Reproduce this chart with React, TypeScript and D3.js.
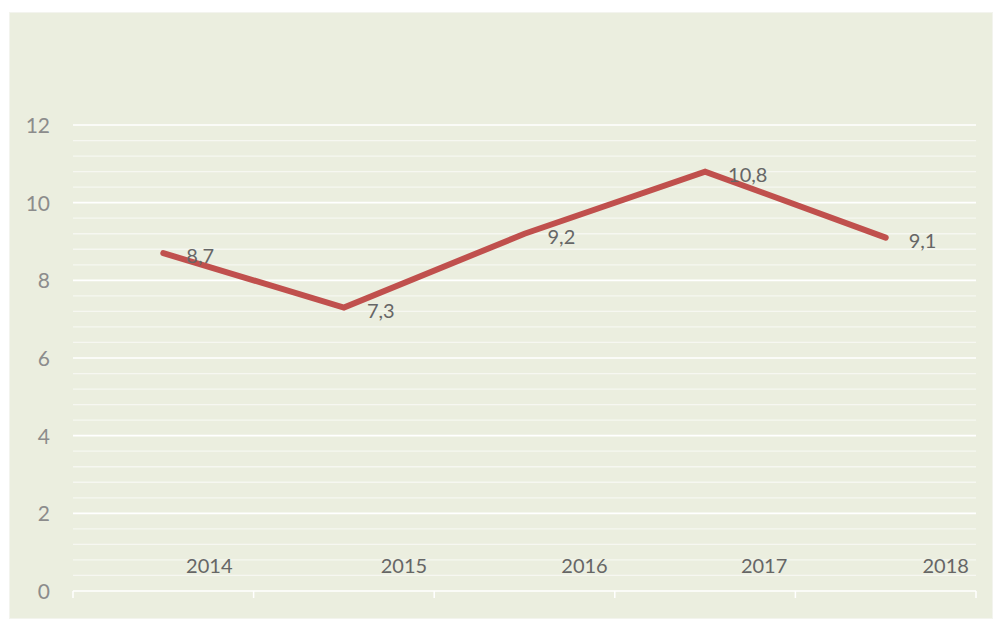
import React from "react";
import * as d3 from "d3";

const categories = ["2014", "2015", "2016", "2017", "2018"];
const values = [8.7, 7.3, 9.2, 10.8, 9.1];
const yTicks = [0, 2, 4, 6, 8, 10, 12];

const W = 995;
const H = 621;
const plot = { left: 73, right: 976, top: 125, bottom: 591 };
const catLabelShift = [46, 60, 60, 59, 60];
const FONT = "Lato, 'Open Sans', sans-serif";

export default function App() {
  const x = d3
    .scaleBand<string>()
    .domain(categories)
    .range([plot.left, plot.right])
    .paddingInner(0)
    .paddingOuter(0);
  const y = d3.scaleLinear().domain([0, 12]).range([plot.bottom, plot.top]);
  const cx = (c: string) => (x(c) as number) + x.bandwidth() / 2;

  const minorTicks = d3.range(0, 12.001, 0.4).filter(
    (v) => Math.abs(v / 2 - Math.round(v / 2)) > 1e-6
  );

  const line = d3
    .line<number>()
    .x((_, i) => cx(categories[i]))
    .y((d) => y(d));

  const boundaries = [...categories.map((c) => x(c) as number), plot.right];
  const fmt = (v: number) => v.toFixed(1).replace(".", ",");

  return (
    <svg
      width={W}
      height={H}
      style={{ position: "absolute", left: 0, top: 0 }}
      fontFamily={FONT}
    >
      <rect x={0} y={0} width={W} height={H} fill="#ffffff" />
      <rect
        x={9.5}
        y={12.5}
        width={983}
        height={606}
        fill="#EBEEDF"
        stroke="#F3F4EE"
        strokeWidth={1}
      />
      {minorTicks.map((t, i) => (
        <line
          key={"mn" + i}
          x1={plot.left}
          x2={plot.right}
          y1={y(t)}
          y2={y(t)}
          stroke="#F6F7F1"
          strokeWidth={1.3}
        />
      ))}
      {yTicks.map((t) => (
        <line
          key={"mj" + t}
          x1={plot.left}
          x2={plot.right}
          y1={y(t)}
          y2={y(t)}
          stroke="#FFFFFF"
          strokeWidth={1.6}
        />
      ))}
      {boundaries.map((b, i) => (
        <line
          key={"tk" + i}
          x1={b}
          x2={b}
          y1={plot.bottom}
          y2={plot.bottom + 7}
          stroke="#FFFFFF"
          strokeWidth={1.5}
        />
      ))}
      {yTicks.map((t) => (
        <text
          key={"yl" + t}
          x={50}
          y={y(t) + 8}
          textAnchor="end"
          fontSize={21}
          fill="#8C8C8C"
        >
          {t}
        </text>
      ))}
      {categories.map((c, i) => (
        <text
          key={"cl" + c}
          x={cx(c) + catLabelShift[i]}
          y={573}
          textAnchor="middle"
          fontSize={20}
          fill="#666666"
        >
          {c}
        </text>
      ))}
      <path
        d={line(values) || ""}
        fill="none"
        stroke="#C0504D"
        strokeWidth={6}
        strokeLinecap="round"
        strokeLinejoin="miter"
      />
      {values.map((v, i) => (
        <text
          key={"dl" + i}
          x={cx(categories[i]) + 23}
          y={y(v) + 10}
          textAnchor="start"
          fontSize={20}
          fill="#666666"
        >
          {fmt(v)}
        </text>
      ))}
    </svg>
  );
}
